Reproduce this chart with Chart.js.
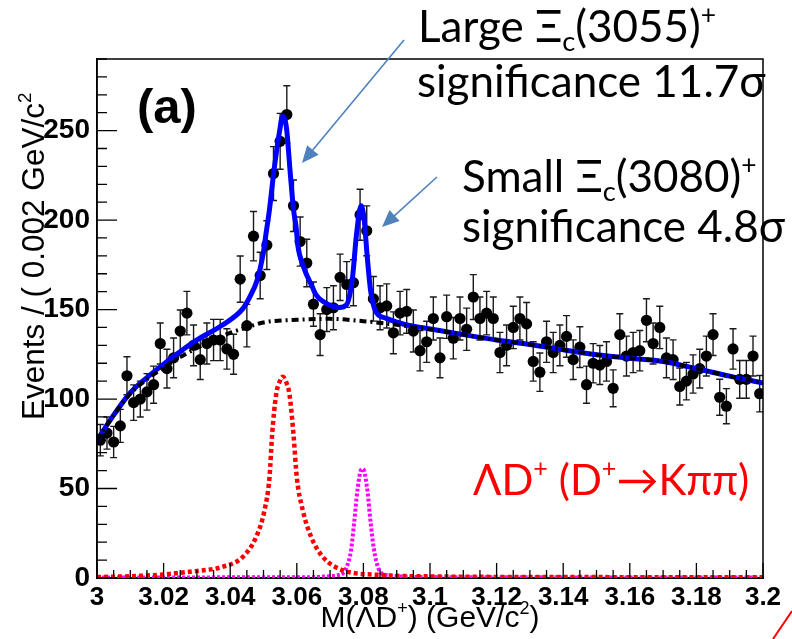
<!DOCTYPE html>
<html>
<head>
<meta charset="utf-8">
<script src="https://cdn.jsdelivr.net/npm/chart.js@4.4.1/dist/chart.umd.min.js"></script>
<style>
  html, body { margin: 0; padding: 0; background: #fff; }
  #c { display: block; }
</style>
</head>
<body>
<canvas id="c" width="792" height="639"></canvas>
<script>
// histogram: 100 bins of 2 MeV from 3.000 to 3.200
const binStart = 3.0;
const binWidth = 0.002;
const counts = [
  77, 81, 76, 85, 113, 98, 100, 104, 108, 131,
  117, 123, 138, 148, 130, 122, 131, 133, 133, 128,
  125, 167, 141, 191, 169, 186, 226, 244, 259, 208,
  188, 176, 153, 136, 150, 151, 168, 164, 165, 203,
  194, 156, 151, 152, 137, 148, 149, 138, 127, 132,
  145, 123, 146, 134, 145, 139, 157, 145, 148, 145,
  126, 130, 140, 145, 142, 121, 115, 132, 126, 130,
  135, 122, 129, 108, 120, 119, 121, 106, 136, 124,
  126, 127, 144, 131, 140, 123, 122, 107, 110, 114,
  117, 124, 136, 101, 96, 128, 111, 111, 124, 103
];

const xTicks = [3, 3.02, 3.04, 3.06, 3.08, 3.1, 3.12, 3.14, 3.16, 3.18, 3.2];
const yTicks = [0, 50, 100, 150, 200, 250];

// curves: [mass, events]
const bkgCurve = [
  [3.000, 77], [3.005, 91], [3.010, 103], [3.015, 111], [3.020, 117.5],
  [3.025, 123.5], [3.030, 128.5], [3.035, 133], [3.040, 137], [3.045, 140],
  [3.050, 142.8], [3.060, 144.3], [3.070, 144.8], [3.080, 143.5], [3.090, 141.5],
  [3.100, 139], [3.110, 136], [3.120, 133], [3.130, 130.5], [3.140, 127.5],
  [3.150, 124.8], [3.160, 122.8], [3.170, 121], [3.180, 117], [3.190, 112.8],
  [3.200, 109]
];

const fitCurve = [
  [3.000, 77], [3.005, 91], [3.010, 103.5], [3.015, 112], [3.020, 119.5],
  [3.025, 126.5], [3.030, 133], [3.0378, 141.5], [3.0438, 150.5], [3.0460, 157.5],
  [3.048, 166], [3.0498, 180], [3.0508, 193], [3.0518, 206], [3.0531, 227],
  [3.0549, 250.5], [3.0557, 258], [3.0569, 251.5], [3.0580, 227], [3.0590, 206],
  [3.0598, 196], [3.0603, 186], [3.0620, 174], [3.0648, 162], [3.0658, 158.2],
  [3.0693, 153], [3.0728, 151.1], [3.0749, 152.6], [3.0767, 167.4], [3.0779, 191.5],
  [3.0793, 208], [3.0802, 200.7], [3.0812, 178.5], [3.0822, 160], [3.0837, 149],
  [3.0867, 145.2], [3.0927, 141.5], [3.0987, 139.6], [3.110, 136], [3.120, 133],
  [3.130, 130.5], [3.140, 127.5], [3.150, 124.8], [3.160, 122.8], [3.170, 121],
  [3.180, 117], [3.190, 112.8], [3.200, 109]
];

const xi3055 = [
  [3.000, 0.5], [3.010, 1.0], [3.020, 2.0], [3.0278, 3.5], [3.0378, 6.3],
  [3.0438, 11.8], [3.0478, 23], [3.0503, 37.8], [3.0518, 56.3], [3.0526, 80.4],
  [3.0538, 102.6], [3.0548, 109.5], [3.0558, 112.5], [3.0568, 109.5], [3.0578, 102.6],
  [3.0590, 80.4], [3.0600, 56.3], [3.0618, 37.8], [3.0643, 23], [3.0678, 11.8],
  [3.0737, 4.4], [3.085, 1.7], [3.100, 0.9], [3.150, 0.5], [3.200, 0.4]
];

const xi3080 = [
  [3.000, 0.3], [3.060, 0.4], [3.0728, 1.7], [3.0748, 5.4], [3.0763, 15.6],
  [3.0772, 30.4], [3.0782, 48.9], [3.0792, 60], [3.0797, 61], [3.0802, 60],
  [3.0812, 48.9], [3.0822, 30.4], [3.0832, 15.6], [3.0845, 5.4], [3.0867, 1.7],
  [3.100, 0.5], [3.200, 0.3]
];

const toXY = arr => arr.map(p => ({ x: p[0], y: p[1] }));
const histPoints = counts.map((n, i) => ({ x: binStart + binWidth * (i + 0.5), y: n }));

// draws text pieces with sub/superscripts, returns width
function drawRich(ctx, x, y, parts, size, family, weight, doDraw = true) {
  let cx = x;
  parts.forEach(([txt, mode]) => {
    let s = size, dy = 0;
    if (mode === 'sub') { s = size * 0.62; dy = size * 0.2; }
    if (mode === 'sup') { s = size * 0.6; dy = -size * 0.42; }
    ctx.font = `${weight} ${s}px ${family}`;
    if (doDraw) ctx.fillText(txt, cx, y + dy);
    cx += ctx.measureText(txt).width;
  });
  return cx - x;
}

function drawArrow(ctx, x1, y1, x2, y2) {
  const ang = Math.atan2(y2 - y1, x2 - x1);
  const hl = 17, hw = 7.5;
  ctx.beginPath();
  ctx.moveTo(x1, y1);
  ctx.lineTo(x2 - Math.cos(ang) * hl * 0.8, y2 - Math.sin(ang) * hl * 0.8);
  ctx.stroke();
  ctx.beginPath();
  ctx.moveTo(x2, y2);
  ctx.lineTo(x2 - hl * Math.cos(ang) + hw * Math.sin(ang), y2 - hl * Math.sin(ang) - hw * Math.cos(ang));
  ctx.lineTo(x2 - hl * Math.cos(ang) - hw * Math.sin(ang), y2 - hl * Math.sin(ang) + hw * Math.cos(ang));
  ctx.closePath();
  ctx.fill();
}

const decorations = {
  id: 'decorations',
  beforeDatasetsDraw(chart) {
    // error bars under markers
    const ctx = chart.ctx, xs = chart.scales.x, ys = chart.scales.y;
    ctx.save();
    ctx.setLineDash([]);
    ctx.strokeStyle = '#1a1a1a';
    ctx.lineWidth = 1.4;
    histPoints.forEach(p => {
      const e = Math.sqrt(p.y);
      const px = xs.getPixelForValue(p.x);
      const t = ys.getPixelForValue(p.y + e), b = ys.getPixelForValue(p.y - e);
      ctx.beginPath();
      ctx.moveTo(px, t); ctx.lineTo(px, b);
      ctx.moveTo(px - 3.5, t); ctx.lineTo(px + 3.5, t);
      ctx.moveTo(px - 3.5, b); ctx.lineTo(px + 3.5, b);
      ctx.stroke();
    });
    ctx.restore();
  },
  afterDatasetsDraw(chart) {
    const ctx = chart.ctx, xs = chart.scales.x, ys = chart.scales.y;
    const L = xs.left, R = xs.right, T = ys.top, B = ys.bottom;
    ctx.save();
    ctx.setLineDash([]);
    ctx.globalAlpha = 1;
    ctx.strokeStyle = '#000000';

    // frame
    ctx.lineWidth = 1.5;
    ctx.beginPath();
    ctx.moveTo(L, B); ctx.lineTo(L, T); ctx.lineTo(R, T); ctx.lineTo(R, B);
    ctx.stroke();

    // inward ticks
    ctx.lineWidth = 1.3;
    ctx.beginPath();
    for (let k = 0; k <= 40; k++) {
      const px = xs.getPixelForValue(3 + k * 0.005);
      const len = k % 4 === 0 ? 15 : 8;
      ctx.moveTo(px, B); ctx.lineTo(px, B - len);
    }
    for (let v = 0; v <= 290; v += 10) {
      const py = ys.getPixelForValue(v);
      const len = v % 50 === 0 ? 20 : 10;
      ctx.moveTo(L, py); ctx.lineTo(L + len, py);
    }
    ctx.stroke();
    ctx.restore();
  },
  afterDraw(chart) {
    const ctx = chart.ctx;
    const a = chart.chartArea;
    ctx.save();
    ctx.setLineDash([]);

    // axis titles
    ctx.fillStyle = '#000';
    ctx.textBaseline = 'alphabetic';
    ctx.textAlign = 'left';
    const xTitle = [['M(\u039BD', 0], ['+', 'sup'], [') (GeV/c', 0], ['2', 'sup'], [')', 0]];
    const w = drawRich(ctx, 0, 0, xTitle, 30, '"Liberation Sans", Arial', 'normal', false);
    drawRich(ctx, (a.left + a.right) / 2 - w / 2, 627, xTitle, 30, '"Liberation Sans", Arial', 'normal');

    ctx.save();
    ctx.translate(44, 420);
    ctx.rotate(-Math.PI / 2);
    drawRich(ctx, 0, 0, [['Events / ( 0.002 GeV/c', 0], ['2', 'sup']], 31.5, '"Liberation Sans", Arial', 'normal');
    ctx.restore();

    // panel label
    ctx.font = 'bold 49px "Liberation Sans", Arial';
    ctx.fillText('(a)', 137, 123);

    // annotations
    const fam = 'Lato, "Open Sans", sans-serif';
    drawRich(ctx, 418, 42, [['Large \u039E', 0], ['c', 'sub'], ['(3055)', 0], ['+', 'sup']], 44, fam, 'normal');
    drawRich(ctx, 417, 97, [['significance 11.7\u03C3', 0]], 44, fam, 'normal');
    drawRich(ctx, 462, 192, [['Small \u039E', 0], ['c', 'sub'], ['(3080)', 0], ['+', 'sup']], 44, fam, 'normal');
    drawRich(ctx, 462, 242, [['significance 4.8\u03C3', 0]], 44, fam, 'normal');

    ctx.fillStyle = '#ff0000';
    drawRich(ctx, 473, 495, [['\u039BD', 0], ['+', 'sup'], [' (D', 0], ['+', 'sup'], ['\u2192K\u03C0\u03C0)', 0]], 42, fam, 'normal');

    // arrows
    ctx.strokeStyle = '#4F81BD';
    ctx.fillStyle = '#4F81BD';
    ctx.lineWidth = 1.6;
    drawArrow(ctx, 404, 40, 302, 163);
    drawArrow(ctx, 437, 177, 382, 227);

    // stray red stroke at corner
    ctx.strokeStyle = '#ff0000';
    ctx.lineWidth = 2;
    ctx.beginPath();
    ctx.moveTo(792, 611); ctx.lineTo(773, 639);
    ctx.stroke();

    ctx.restore();
  }
};

new Chart(document.getElementById('c'), {
  type: 'scatter',
  data: {
    datasets: [
      {
        label: 'data',
        data: histPoints,
        pointRadius: 5.6,
        pointBackgroundColor: '#000',
        pointBorderWidth: 0,
        showLine: false,
        order: 10
      },
      {
        label: 'fit',
        data: toXY(fitCurve),
        showLine: true,
        borderColor: '#0000ff',
        borderWidth: 5,
        pointRadius: 0,
        cubicInterpolationMode: 'monotone',
        order: 3
      },
      {
        label: 'Xi_c(3055)',
        data: toXY(xi3055),
        showLine: true,
        borderColor: '#ff0000',
        borderWidth: 4.5,
        borderDash: [4, 3],
        pointRadius: 0,
        cubicInterpolationMode: 'monotone',
        order: 2
      },
      {
        label: 'Xi_c(3080)',
        data: toXY(xi3080),
        showLine: true,
        borderColor: '#ff00ff',
        borderWidth: 4,
        borderDash: [3, 2],
        pointRadius: 0,
        cubicInterpolationMode: 'monotone',
        order: 2
      },
      {
        label: 'background',
        data: toXY(bkgCurve),
        showLine: true,
        borderColor: '#000',
        borderWidth: 4,
        borderDash: [7, 4, 2, 4],
        pointRadius: 0,
        cubicInterpolationMode: 'monotone',
        order: 1
      }
    ]
  },
  options: {
    responsive: false,
    animation: false,
    devicePixelRatio: 1,
    layout: { padding: { top: 59, right: 29, left: 0, bottom: 0 } },
    plugins: { legend: { display: false }, tooltip: { enabled: false } },
    scales: {
      x: {
        type: 'linear',
        min: 3,
        max: 3.2,
        grid: { display: false, drawTicks: false },
        border: { display: true, color: '#000', width: 2 },
        afterBuildTicks: s => { s.ticks = xTicks.map(v => ({ value: v })); },
        afterFit: s => { s.height = 61; },
        ticks: {
          autoSkip: false,
          maxRotation: 0,
          padding: 4,
          color: '#000',
          font: { family: '"Liberation Sans", Arial', weight: 'bold', size: 26 },
          callback: v => String(+v.toFixed(2))
        }
      },
      y: {
        type: 'linear',
        min: 0,
        max: 290,
        grid: { display: false, drawTicks: false },
        border: { display: true, color: '#000', width: 1.5 },
        afterBuildTicks: s => { s.ticks = yTicks.map(v => ({ value: v })); },
        afterFit: s => { s.width = 97; },
        ticks: {
          padding: 7,
          color: '#000',
          font: { family: '"Liberation Sans", Arial', weight: 'bold', size: 28 },
          callback: v => String(v)
        }
      }
    }
  },
  plugins: [decorations]
});
</script>
</body>
</html>
